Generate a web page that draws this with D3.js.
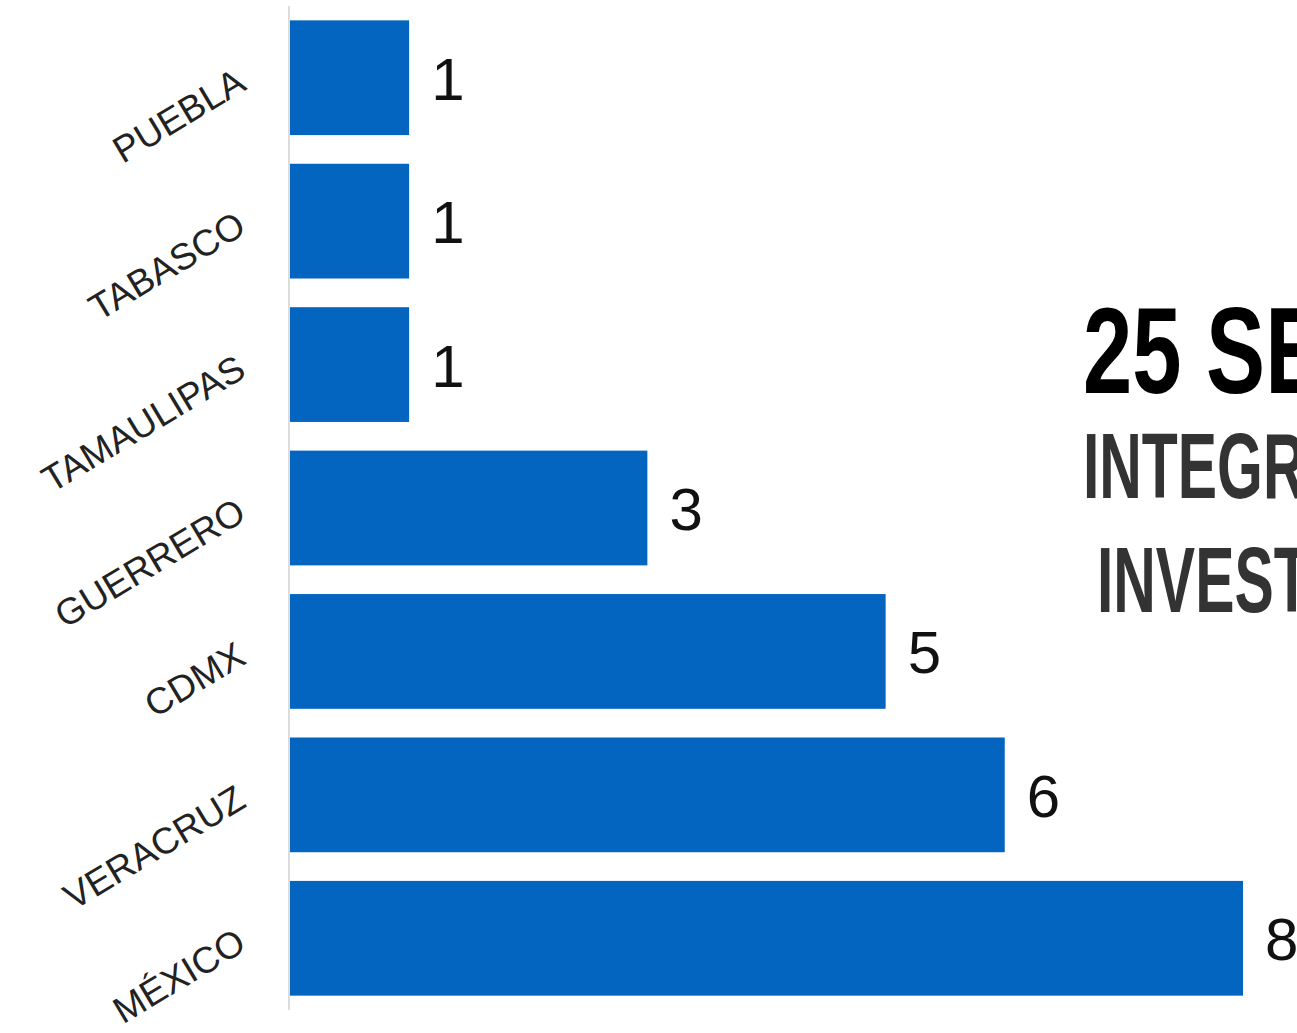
<!DOCTYPE html>
<html><head><meta charset="utf-8">
<script src="https://cdn.jsdelivr.net/npm/d3@7"></script>
<style>body{margin:0;background:#fff;overflow:hidden}</style>
</head><body>
<svg id="c" width="1297" height="1033"></svg>
<script>
const categories = ["PUEBLA","TABASCO","TAMAULIPAS","GUERRERO","CDMX","VERACRUZ","MÉXICO"];
const values = [1,1,1,3,5,6,8];
const titleLines = ["25 SE","INTEGRA","INVEST"];

const svg = d3.select("#c");
const x = d3.scaleLinear().domain([0,8]).range([290,1243]);
const y = d3.scaleBand().domain(categories).range([6,1010]).paddingInner(0.2).paddingOuter(0.1);

svg.append("line").attr("x1",289).attr("x2",289).attr("y1",6).attr("y2",1010)
  .attr("stroke","#dcdcdc").attr("stroke-width",2);

svg.selectAll("rect.bar").data(categories).join("rect").attr("class","bar")
  .attr("x",x(0)).attr("y",d=>y(d)).attr("height",y.bandwidth())
  .attr("width",(d,i)=>x(values[i])-x(0)).attr("fill","#0465C0");

svg.selectAll("text.val").data(categories).join("text").attr("class","val")
  .attr("x",(d,i)=>x(values[i])+22).attr("y",d=>y(d)+y.bandwidth()/2+22)
  .attr("font-family","Liberation Sans, Arial, sans-serif").attr("font-size",60)
  .attr("fill","#111").text((d,i)=>values[i]);

svg.selectAll("text.cat").data(categories).join("text").attr("class","cat")
  .attr("transform",d=>`translate(248,${y(d)+y.bandwidth()/2+11}) rotate(-31)`)
  .attr("text-anchor","end")
  .attr("font-family","Liberation Sans, Arial, sans-serif").attr("font-size",37)
  .attr("fill","#222").text(d=>d);

const tl = [
  {t:titleLines[0], x:1083, y:393, size:123, fill:"#000", sx:0.72},
  {t:titleLines[1], x:1083, y:498, size:92, fill:"#333", sx:0.64},
  {t:titleLines[2], x:1097, y:612, size:92, fill:"#333", sx:0.64}
];
svg.selectAll("text.title").data(tl).join("text").attr("class","title")
  .attr("transform",d=>`translate(${d.x},${d.y}) scale(${d.sx},1)`)
  .attr("font-family","Liberation Sans Narrow, Liberation Sans, sans-serif")
  .attr("font-weight","bold").attr("font-size",d=>d.size).attr("fill",d=>d.fill)
  .text(d=>d.t);
</script>
</body></html>
